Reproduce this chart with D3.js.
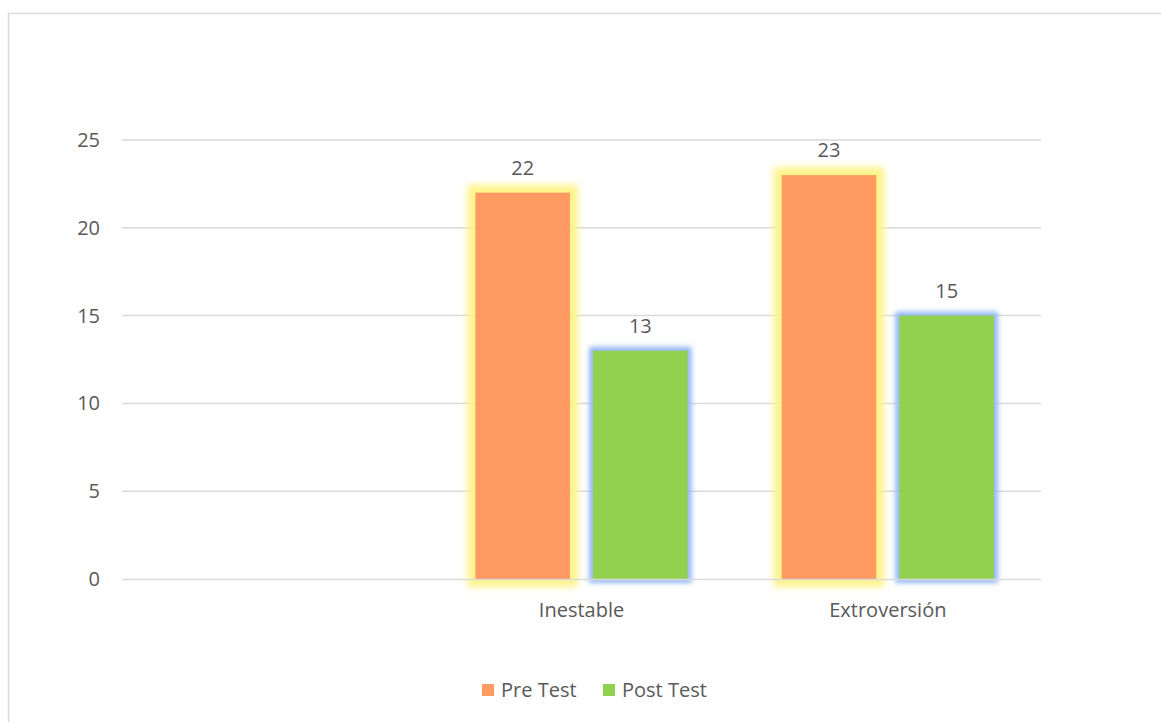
<!DOCTYPE html>
<html>
<head>
<meta charset="utf-8">
<script src="https://cdn.jsdelivr.net/npm/d3@7"></script>
<style>
  html, body { margin: 0; padding: 0; background: #fff; }
  svg { display: block; }
  text { font-family: "Open Sans", "Noto Sans", sans-serif; fill: #595959; }
</style>
</head>
<body>
<svg id="chart" width="1161" height="722"></svg>
<script>
// Categories along the x axis (the first slot is left without a label)
const categories = ["", "Inestable", "Extroversión"];
const seriesNames = ["Pre Test", "Post Test"];
const preTest  = [null, 22, 23];
const postTest = [null, 13, 15];
const yTicks = [0, 5, 10, 15, 20, 25];

const colors = { "Pre Test": "#FF9A63", "Post Test": "#92D050" };
const glowColors = { "Pre Test": "#FFF383", "Post Test": "#8EB4F5" };
const fontSize = "20px";

const svg = d3.select("#chart");
const plot = { left: 122, right: 1041, top: 140, bottom: 579 };

// chart frame
svg.append("rect")
  .attr("x", 8.5).attr("y", 13.5)
  .attr("width", 1170).attr("height", 730)
  .attr("fill", "#fff").attr("stroke", "#d9d9d9").attr("stroke-width", 1.5);

// glow filters
const defs = svg.append("defs");
seriesNames.forEach((s, i) => {
  const f = defs.append("filter").attr("id", "glow" + i)
    .attr("x", "-40%").attr("y", "-30%").attr("width", "180%").attr("height", "160%");
  f.append("feMorphology").attr("in", "SourceAlpha").attr("operator", "dilate")
    .attr("radius", i === 0 ? 8 : 4).attr("result", "d");
  f.append("feGaussianBlur").attr("in", "d").attr("stdDeviation", i === 0 ? 3.5 : 2.5).attr("result", "b");
  f.append("feFlood").attr("flood-color", glowColors[s]).attr("flood-opacity", 0.95);
  f.append("feComposite").attr("in2", "b").attr("operator", "in");
});

const y = d3.scaleLinear().domain([0, 25]).range([plot.bottom, plot.top]);
const x0 = d3.scaleBand().domain(categories).range([plot.left, plot.right]).padding(0);
const x1 = d3.scaleBand().domain(seriesNames).range([0, x0.bandwidth()])
  .paddingInner(0.196).paddingOuter(0.4);

// gridlines
svg.append("g").selectAll("line").data(yTicks.filter(d => d > 0)).join("line")
  .attr("x1", plot.left).attr("x2", plot.right)
  .attr("y1", d => y(d)).attr("y2", d => y(d))
  .attr("stroke", "#d9d9d9").attr("stroke-width", 1.5);

// y axis labels
const yAxis = svg.append("g").attr("transform", `translate(${plot.left},0)`)
  .call(d3.axisLeft(y).tickValues(yTicks).tickSize(0).tickPadding(22));
yAxis.select(".domain").remove();
yAxis.selectAll("text").style("font-size", fontSize).attr("fill", "#595959")
  .style("font-family", '"Open Sans", sans-serif');

const data = categories.map((c, i) => ({ cat: c, "Pre Test": preTest[i], "Post Test": postTest[i] }));

const groups = svg.append("g").selectAll("g").data(data).join("g")
  .attr("transform", d => `translate(${x0(d.cat)},0)`);

// glows behind the bars
seriesNames.forEach((s, i) => {
  groups.filter(d => d[s] != null).append("rect")
    .attr("x", x1(s)).attr("width", x1.bandwidth())
    .attr("y", d => y(d[s])).attr("height", d => y(0) - y(d[s]))
    .attr("fill", "#000").attr("filter", `url(#glow${i})`);
});
// bars and value labels
seriesNames.forEach(s => {
  groups.filter(d => d[s] != null).append("rect")
    .attr("x", x1(s)).attr("width", x1.bandwidth())
    .attr("y", d => y(d[s])).attr("height", d => y(0) - y(d[s]))
    .attr("fill", colors[s]);
  groups.filter(d => d[s] != null).append("text")
    .attr("x", x1(s) + x1.bandwidth() / 2).attr("y", d => y(d[s]) - 18)
    .attr("text-anchor", "middle").style("font-size", fontSize)
    .text(d => d[s]);
});

// x axis line
svg.append("line").attr("x1", plot.left).attr("x2", plot.right)
  .attr("y1", plot.bottom + 0.5).attr("y2", plot.bottom + 0.5)
  .attr("stroke", "#d9d9d9").attr("stroke-width", 1.5);

// category labels
const xAxis = svg.append("g").attr("transform", `translate(0,${plot.bottom})`)
  .call(d3.axisBottom(x0).tickSize(0).tickPadding(24));
xAxis.select(".domain").remove();
xAxis.selectAll("text").style("font-size", fontSize).attr("fill", "#595959")
  .style("font-family", '"Open Sans", sans-serif');

// legend
const legend = svg.append("g").attr("transform", "translate(482,690)");
const legendX = [0, 121];
seriesNames.forEach((s, i) => {
  const g = legend.append("g").attr("transform", `translate(${legendX[i]},0)`);
  g.append("rect").attr("x", 0).attr("y", -6).attr("width", 12).attr("height", 12).attr("fill", colors[s]);
  g.append("text").attr("x", 19).attr("y", 0).attr("dy", "0.35em")
    .style("font-size", fontSize).text(s);
});
</script>
</body>
</html>
